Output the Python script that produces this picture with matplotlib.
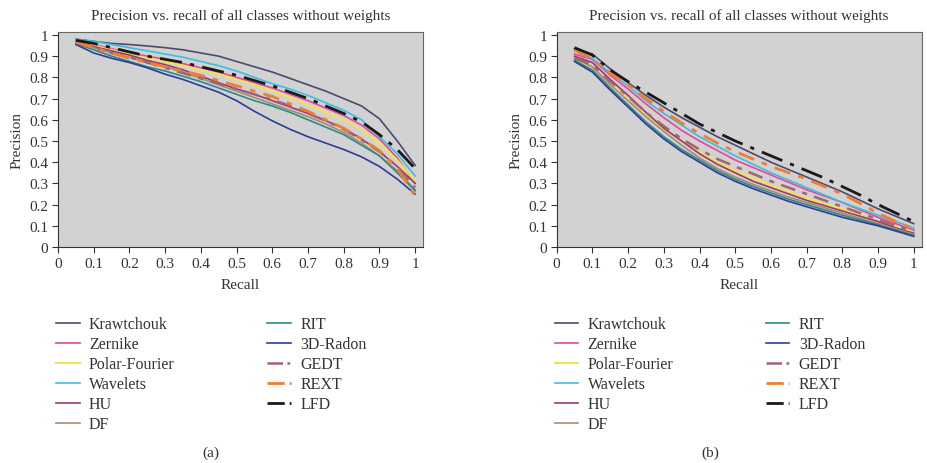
import matplotlib
matplotlib.use("Agg")
import matplotlib.pyplot as plt

plt.rcParams['font.family'] = ['Liberation Serif', 'DejaVu Serif']

recall = [0.05, 0.1, 0.15, 0.2, 0.25, 0.3, 0.35, 0.4, 0.45, 0.5,
          0.55, 0.6, 0.65, 0.7, 0.75, 0.8, 0.85, 0.9, 0.95, 1.0]

methods = ["Krawtchouk", "Zernike", "Polar-Fourier", "Wavelets", "HU", "DF",
           "RIT", "3D-Radon", "GEDT", "REXT", "LFD"]

# (a) precision values, one list per method
prec_a_krawtchouk = [0.98, 0.97, 0.96, 0.955, 0.948, 0.94, 0.93, 0.915, 0.90, 0.875,
                     0.85, 0.825, 0.795, 0.765, 0.735, 0.70, 0.665, 0.605, 0.50, 0.385]
prec_a_zernike = [0.975, 0.955, 0.935, 0.915, 0.90, 0.885, 0.865, 0.845, 0.825, 0.80,
                  0.775, 0.75, 0.72, 0.69, 0.655, 0.62, 0.575, 0.51, 0.42, 0.30]
prec_a_polar = [0.975, 0.95, 0.93, 0.91, 0.89, 0.875, 0.855, 0.835, 0.815, 0.79,
                0.765, 0.735, 0.705, 0.67, 0.635, 0.60, 0.555, 0.49, 0.41, 0.31]
prec_a_wavelets = [0.98, 0.97, 0.955, 0.94, 0.925, 0.91, 0.895, 0.875, 0.855, 0.83,
                   0.80, 0.77, 0.745, 0.715, 0.68, 0.645, 0.60, 0.52, 0.44, 0.335]
prec_a_hu = [0.97, 0.945, 0.925, 0.905, 0.88, 0.86, 0.835, 0.805, 0.775, 0.745,
             0.72, 0.69, 0.66, 0.63, 0.595, 0.56, 0.51, 0.45, 0.38, 0.30]
prec_a_df = [0.97, 0.94, 0.915, 0.895, 0.87, 0.85, 0.825, 0.795, 0.765, 0.735,
             0.705, 0.675, 0.645, 0.615, 0.58, 0.54, 0.49, 0.43, 0.36, 0.27]
prec_a_rit = [0.96, 0.93, 0.90, 0.875, 0.85, 0.83, 0.805, 0.78, 0.75, 0.72,
              0.69, 0.665, 0.635, 0.60, 0.565, 0.53, 0.48, 0.43, 0.35, 0.265]
prec_a_radon = [0.955, 0.915, 0.89, 0.87, 0.845, 0.815, 0.79, 0.76, 0.73, 0.69,
                0.64, 0.595, 0.555, 0.52, 0.49, 0.46, 0.425, 0.38, 0.32, 0.25]
prec_a_gedt = [0.965, 0.94, 0.915, 0.895, 0.87, 0.845, 0.82, 0.795, 0.77, 0.745,
               0.72, 0.695, 0.665, 0.63, 0.595, 0.555, 0.505, 0.45, 0.38, 0.28]
prec_a_rext = [0.965, 0.94, 0.915, 0.89, 0.87, 0.85, 0.83, 0.81, 0.785, 0.76,
               0.735, 0.71, 0.675, 0.64, 0.60, 0.56, 0.51, 0.455, 0.37, 0.24]
prec_a_lfd = [0.975, 0.96, 0.94, 0.92, 0.90, 0.885, 0.87, 0.85, 0.83, 0.81,
              0.785, 0.76, 0.73, 0.70, 0.665, 0.63, 0.59, 0.53, 0.46, 0.37]

# (b) precision values
prec_b_krawtchouk = [0.935, 0.91, 0.84, 0.775, 0.715, 0.66, 0.61, 0.565, 0.52, 0.48,
                     0.44, 0.40, 0.365, 0.33, 0.295, 0.26, 0.22, 0.18, 0.145, 0.11]
prec_b_zernike = [0.91, 0.885, 0.81, 0.745, 0.675, 0.61, 0.55, 0.50, 0.455, 0.41,
                  0.375, 0.34, 0.305, 0.27, 0.24, 0.21, 0.175, 0.14, 0.11, 0.08]
prec_b_polar = [0.88, 0.845, 0.77, 0.695, 0.62, 0.555, 0.50, 0.45, 0.40, 0.36,
                0.325, 0.29, 0.26, 0.23, 0.205, 0.18, 0.15, 0.12, 0.095, 0.07]
prec_b_wavelets = [0.925, 0.89, 0.82, 0.76, 0.69, 0.63, 0.575, 0.52, 0.475, 0.43,
                   0.39, 0.35, 0.315, 0.28, 0.245, 0.21, 0.18, 0.15, 0.12, 0.09]
prec_b_hu = [0.90, 0.87, 0.79, 0.715, 0.635, 0.56, 0.50, 0.44, 0.39, 0.35,
             0.31, 0.28, 0.25, 0.22, 0.195, 0.17, 0.145, 0.12, 0.09, 0.065]
prec_b_df = [0.89, 0.85, 0.765, 0.69, 0.615, 0.545, 0.48, 0.42, 0.37, 0.33,
             0.295, 0.265, 0.235, 0.21, 0.185, 0.16, 0.135, 0.11, 0.085, 0.06]
prec_b_rit = [0.88, 0.835, 0.75, 0.67, 0.59, 0.52, 0.46, 0.41, 0.36, 0.32,
              0.285, 0.255, 0.225, 0.20, 0.175, 0.15, 0.128, 0.105, 0.08, 0.055]
prec_b_radon = [0.875, 0.825, 0.74, 0.66, 0.58, 0.51, 0.45, 0.40, 0.35, 0.31,
                0.275, 0.245, 0.215, 0.19, 0.165, 0.14, 0.12, 0.10, 0.075, 0.05]
prec_b_gedt = [0.89, 0.86, 0.78, 0.71, 0.635, 0.57, 0.51, 0.46, 0.415, 0.38,
               0.345, 0.31, 0.28, 0.25, 0.22, 0.19, 0.16, 0.13, 0.10, 0.075]
prec_b_rext = [0.93, 0.885, 0.82, 0.765, 0.70, 0.64, 0.585, 0.535, 0.49, 0.45,
               0.415, 0.38, 0.35, 0.32, 0.285, 0.25, 0.205, 0.16, 0.12, 0.085]
prec_b_lfd = [0.94, 0.905, 0.835, 0.78, 0.73, 0.68, 0.63, 0.58, 0.54, 0.50,
              0.465, 0.43, 0.395, 0.36, 0.325, 0.285, 0.245, 0.20, 0.16, 0.12]

prec_a = [prec_a_krawtchouk, prec_a_zernike, prec_a_polar, prec_a_wavelets, prec_a_hu,
          prec_a_df, prec_a_rit, prec_a_radon, prec_a_gedt, prec_a_rext, prec_a_lfd]
prec_b = [prec_b_krawtchouk, prec_b_zernike, prec_b_polar, prec_b_wavelets, prec_b_hu,
          prec_b_df, prec_b_rit, prec_b_radon, prec_b_gedt, prec_b_rext, prec_b_lfd]

colors = ["#4b4a70", "#e8479a", "#f2e24e", "#3cbde3", "#9a3a72", "#a88a76",
          "#2a8c84", "#2c3c98", "#a26474", "#f07e2e", "#1a1a1a"]
styles = ['-', '-', '-', '-', '-', '-', '-', '-',
          (0, (6, 3, 2, 3)), (0, (6, 3, 2, 3)), (0, (8, 3, 1.5, 3))]
widths = [1.2, 1.2, 1.4, 1.2, 1.2, 1.2, 1.2, 1.2, 1.8, 2.0, 2.0]


def draw(ax, data, tag):
    for name, vals, c, ls, lw in zip(methods, data, colors, styles, widths):
        ax.plot(recall, vals, color=c, linestyle=ls, linewidth=lw, label=name)
    ax.set_facecolor("#d2d2d2")
    ax.set_xlim(0, 1.022)
    ax.set_ylim(0, 1.014)
    ticks = [i / 10 for i in range(11)]
    labels = ["0"] + ["0.%d" % i for i in range(1, 10)] + ["1"]
    ax.set_xticks(ticks)
    ax.set_xticklabels(labels)
    ax.set_yticks(ticks)
    ax.set_yticklabels(labels)
    ax.tick_params(direction='out', length=4, width=0.8, colors="#333333",
                   labelsize=11, labelcolor="#333333", pad=3)
    for s in ['top', 'right']:
        ax.spines[s].set_color("#666666")
    for s in ['left', 'bottom']:
        ax.spines[s].set_color("#333333")
    ax.set_title("Precision vs. recall of all classes without weights",
                 fontsize=11, color="#333333", pad=9)
    ax.set_xlabel("Recall", fontsize=11, color="#333333", labelpad=6)
    ax.set_ylabel("Precision", fontsize=11, color="#333333", labelpad=4)
    leg = ax.legend(loc='upper left', bbox_to_anchor=(-0.044, -0.255), ncol=2,
                    frameon=False, fontsize=11.5, handlelength=1.45,
                    columnspacing=5.8, labelspacing=0.25, handletextpad=0.6)
    for t in leg.get_texts():
        t.set_color("#333333")
    # legend handles drawn as "long dash, short dash" like the original
    for ln, ls in zip(leg.get_lines(), styles):
        if ls != '-':
            ln.set_linestyle((0, (6.2, 1.8, 1.1, 10)))
    ax.text(0.42, -0.97, tag, transform=ax.transAxes, ha='center',
            fontsize=11, color="#333333")


fig = plt.figure(figsize=(9.27, 4.64), dpi=100)
ax1 = fig.add_axes([0.0626, 0.4655, 0.3937, 0.4634])
ax2 = fig.add_axes([0.6005, 0.4655, 0.3937, 0.4634])
draw(ax1, prec_a, "(a)")
draw(ax2, prec_b, "(b)")

fig.savefig("out.png", dpi=100)
